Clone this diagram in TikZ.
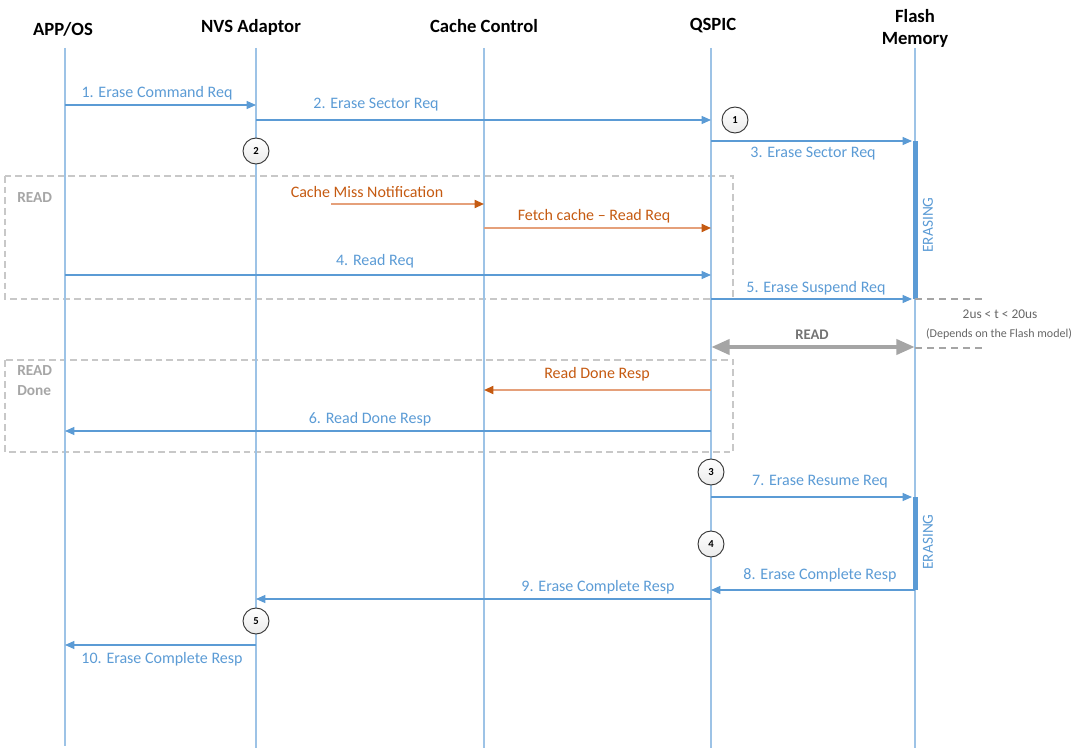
\documentclass[tikz,border=0pt]{standalone}
\usepackage{fontspec}
\setmainfont{Carlito}
\usetikzlibrary{arrows.meta}
\definecolor{lline}{HTML}{9DC3E6}
\definecolor{mblue}{HTML}{5B9BD5}
\definecolor{morange}{HTML}{C55A11}
\definecolor{lorange}{HTML}{E5A07A}
\definecolor{bgray}{HTML}{C8C8C8}
\definecolor{tgray}{HTML}{A6A6A6}
\definecolor{rgray}{HTML}{A5A5A5}
\begin{document}
\begin{tikzpicture}[x=0.75pt,y=-0.75pt,
  life/.style={draw=lline,line width=1.3pt},
  msg/.style={draw=mblue,line width=0.9pt,-{Triangle[length=7pt,width=6pt]}},
  omsg/.style={draw=lorange,line width=1.3pt,-{Triangle[length=7pt,width=6pt,color=morange,fill=morange]}},
  lbl/.style={text=mblue,font=\fontsize{12}{14}\selectfont,inner sep=0pt},
  olbl/.style={text=morange,font=\fontsize{12}{14}\selectfont,inner sep=0pt},
  head/.style={font=\bfseries\fontsize{14}{16.5}\selectfont,align=center,inner sep=0pt},
  stepc/.style={circle,draw=black!80,line width=0.7pt,top color=white,bottom color=black!8,minimum size=19.5pt,inner sep=0pt,font=\bfseries\fontsize{8}{9}\selectfont},
  grp/.style={draw=bgray,dashed,dash pattern=on 5pt off 3pt,line width=0.8pt},
  grplbl/.style={text=tgray,font=\bfseries\fontsize{11.5}{15}\selectfont,align=left,inner sep=0pt},
  bar/.style={fill=mblue,draw=none},
  vlbl/.style={text=mblue,font=\fontsize{11.5}{13}\selectfont,rotate=90,inner sep=0pt},
  tdash/.style={draw=rgray,line width=0.8pt,dash pattern=on 5pt off 4pt}
]
\useasboundingbox (0,0) rectangle (1079,756);

% group boxes
\draw[grp] (5,176) rectangle (733,299);
\draw[grp] (5,360) rectangle (733,452);
\node[grplbl,anchor=west] (readlbl) at (17,198) {READ};
\node[grplbl,anchor=north west] (donelbl) at (17,365) {READ\\Done};

% headers
\node[head] (hApp) at (63,29) {APP/OS};
\node[head] (hNvs) at (251,27) {NVS Adaptor};
\node[head] (hCache) at (484,26) {Cache Control};
\node[head] (hQspic) at (713,26) {QSPIC};
\node[head] (hFlash) at (915,28) {Flash\\Memory};

% lifeline coordinates
\coordinate (app) at (65,48);
\coordinate (nvs) at (256,48);
\coordinate (cache) at (484,48);
\coordinate (qspic) at (711,48);
\coordinate (flash) at (915,48);
\coordinate (flashL) at (912,48);
\coordinate (appE) at (65,746);
\coordinate (nvsE) at (256,748);
\coordinate (cacheE) at (484,748);
\coordinate (qspicE) at (711,748);
\coordinate (flashE) at (915,748);
\draw[life] (app) -- (appE);
\draw[life] (nvs) -- (nvsE);
\draw[life] (cache) -- (cacheE);
\draw[life] (qspic) -- (qspicE);
\draw[life] (flash) -- (flashE);

% erasing bars
\fill[bar] (912.5,141) rectangle (917.5,299);
\fill[bar] (912.5,497) rectangle (917.5,590);
\node[vlbl] (er1) at (928,225) {ERASING};
\node[vlbl] (er2) at (928,542) {ERASING};

% messages
\draw[msg] (app |- 0,105) -- (nvs |- 0,105);
\node[lbl] (l1) at (157,93) {1. Erase Command Req};
\draw[msg] (nvs |- 0,120) -- (qspic |- 0,120);
\node[lbl] (l2) at (376,105) {2. Erase Sector Req};
\draw[msg] (qspic |- 0,141) -- (flashL |- 0,141);
\node[lbl] (l3) at (813,154) {3. Erase Sector Req};

\coordinate (cmStart) at (331,204);
\draw[omsg] (cmStart) -- (cache |- cmStart);
\node[olbl] (lcm) at (367,192) {Cache Miss Notification};
\draw[omsg] (cache |- 0,228) -- (qspic |- 0,228);
\node[olbl] (lfc) at (594,216) {Fetch cache -- Read Req};

\draw[msg] (app |- 0,275) -- (qspic |- 0,275);
\node[lbl] (l4) at (375,261) {4. Read Req};
\draw[msg] (qspic |- 0,299) -- (flashL |- 0,299);
\node[lbl] (l5) at (816,288) {5. Erase Suspend Req};

% timing
\coordinate (t1) at (985,299);
\coordinate (t2) at (985,348);
\draw[tdash] (flash |- t1) -- (t1);
\draw[tdash] (flash |- t2) -- (t2);
\node[text=black!60,font=\fontsize{10}{12}\selectfont,inner sep=0pt] (tt) at (1000,314) {2us < t < 20us};
\node[text=black!60,font=\fontsize{9}{11}\selectfont,inner sep=0pt] (td) at (999,334) {(Depends on the Flash model)};

\draw[draw=rgray,line width=3.6pt,{Triangle[length=14pt,width=11pt]}-{Triangle[length=14pt,width=11pt]}] (qspic |- 0,347) -- (flash |- 0,347);
\node[text=black!55,font=\bfseries\fontsize{11}{13}\selectfont,inner sep=0pt] (lread) at (812,335) {READ};

\draw[omsg] (qspic |- 0,390) -- (cache |- 0,390);
\node[olbl] (lrd) at (597,374) {Read Done Resp};
\draw[msg] (qspic |- 0,431) -- (app |- 0,431);
\node[lbl] (l6) at (370,419) {6. Read Done Resp};

\draw[msg] (qspic |- 0,497) -- (flashL |- 0,497);
\node[lbl] (l7) at (820,482) {7. Erase Resume Req};
\draw[msg] (flash |- 0,590) -- (qspic |- 0,590);
\node[lbl] (l8) at (820,575) {8. Erase Complete Resp};
\draw[msg] (qspic |- 0,599) -- (nvs |- 0,599);
\node[lbl] (l9) at (598,587) {9. Erase Complete Resp};
\draw[msg] (nvs |- 0,645) -- (app |- 0,645);
\node[lbl] (l10) at (162,659) {10. Erase Complete Resp};

% step circles
\node[stepc] (c1) at (735,120) {1};
\node[stepc] (c2) at (256,151) {2};
\node[stepc] (c3) at (711,472) {3};
\node[stepc] (c4) at (711,544) {4};
\node[stepc] (c5) at (256,621) {5};
\end{tikzpicture}
\end{document}
